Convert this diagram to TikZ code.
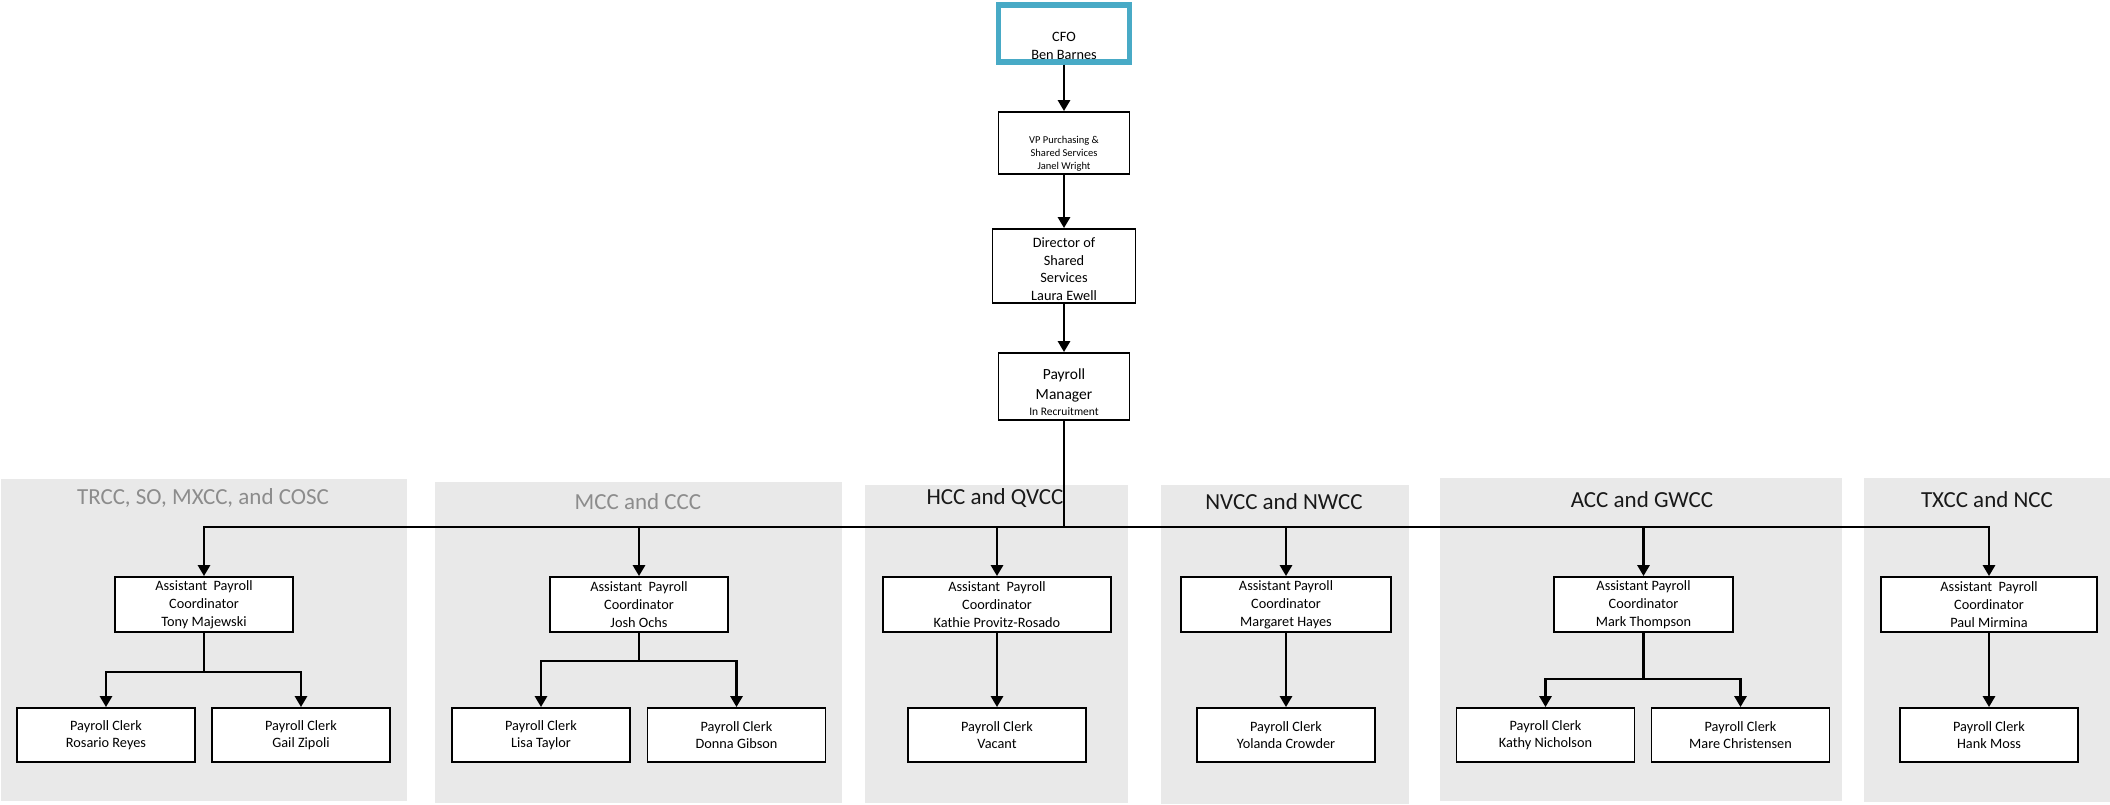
\documentclass[tikz,border=0pt]{standalone}
\usepackage{fontspec}
\setmainfont{Carlito}
\usetikzlibrary{arrows.meta}
\definecolor{panelgray}{RGB}{233,233,233}
\definecolor{titlegray}{RGB}{140,140,140}
\definecolor{titleblack}{RGB}{25,25,25}
\definecolor{cfoteal}{RGB}{72,170,198}
\tikzset{
  box/.style={draw=black, line width=1.8pt, fill=white, rectangle, inner sep=0pt, align=center},
  cfobox/.style={draw=cfoteal, line width=5.5pt, fill=white, rectangle, inner sep=0pt},
  txt/.style={align=center, inner sep=0pt},
  panel/.style={fill=panelgray, draw=none},
  ptitle/.style={inner sep=0pt, font=\fontsize{23}{27}\selectfont},
  conn/.style={line width=2.8pt, draw=black},
  arr/.style={conn, -{Triangle[length=11pt,width=12pt]}},
  asst/.style={box, minimum height=55pt, font=\fontsize{14.3}{18}\selectfont},
  clerk/.style={box, minimum width=178pt, minimum height=54pt, font=\fontsize{14.3}{17}\selectfont}
}
\begin{document}
\begin{tikzpicture}[x=1pt,y=-1pt]
\useasboundingbox (0,0) rectangle (2110,805);
% panels
\fill[panel] (1,479) rectangle (407,801);
\fill[panel] (435,482) rectangle (842,803);
\fill[panel] (865,485) rectangle (1128,803);
\fill[panel] (1161,485) rectangle (1409,804);
\fill[panel] (1440,478) rectangle (1842,801);
\fill[panel] (1864,478) rectangle (2110,802);
% titles
\node[ptitle, text=titlegray] (t1) at (203,498) {TRCC, SO, MXCC, and COSC};
\node[ptitle, text=titlegray] (t2) at (638,502) {MCC and CCC};
\node[ptitle, text=titleblack] (t3) at (995,498) {HCC and QVCC};
\node[ptitle, text=titleblack] (t4) at (1284,502) {NVCC and NWCC};
\node[ptitle, text=titleblack] (t5) at (1642,500) {ACC and GWCC};
\node[ptitle, text=titleblack] (t6) at (1987,500) {TXCC and NCC};
% top chain
\node[cfobox, minimum width=131pt, minimum height=57pt] (cfo) at (1064,33.5) {};
\node[txt, font=\fontsize{14.3}{18}\selectfont] (cfot) at (1064,46) {CFO\\Ben Barnes};
\node[box, minimum width=131pt, minimum height=62pt] (vp) at (1064,143) {};
\node[txt, font=\fontsize{10.5}{13}\selectfont] (vpt) at (1064,154) {VP Purchasing \&\\Shared Services\\Janel Wright};
\node[box, minimum width=143pt, minimum height=74pt] (dir) at (1064,266) {};
\node[txt, font=\fontsize{14.3}{17.5}\selectfont] (dirt) at (1064,269) {Director of\\Shared\\Services\\Laura Ewell};
\node[box, minimum width=131pt, minimum height=67pt] (pm) at (1064,386.5) {};
\node[txt, font=\fontsize{15.5}{20}\selectfont] (pmt) at (1064,385) {Payroll\\Manager};
\node[txt, font=\fontsize{11.5}{14}\selectfont] (pmr) at (1064,412) {In Recruitment};
\draw[arr] (cfo.south) -- (vp.north);
\draw[arr] (vp.south) -- (dir.north);
\draw[arr] (dir.south) -- (pm.north);
% assistants
\node[asst, minimum width=178pt] (a1) at (204,604.5) {Assistant\ \ Payroll\\Coordinator\\Tony Majewski};
\node[asst, minimum width=178pt] (a2) at (639,604.5) {Assistant\ \ Payroll\\Coordinator\\Josh Ochs};
\node[asst, minimum width=228pt] (a3) at (997,604.5) {Assistant\ \ Payroll\\Coordinator\\Kathie Provitz-Rosado};
\node[asst, minimum width=210pt] (a4) at (1286,604.5) {Assistant Payroll\\Coordinator\\Margaret Hayes};
\node[asst, minimum width=179pt] (a5) at (1643.5,604.5) {Assistant Payroll\\Coordinator\\Mark Thompson};
\node[asst, minimum width=216pt] (a6) at (1989,604.5) {Assistant\ \ Payroll\\Coordinator\\Paul Mirmina};
% clerks
\node[clerk] (c1a) at (106,735) {Payroll Clerk\\Rosario Reyes};
\node[clerk] (c1b) at (301,735) {Payroll Clerk\\Gail Zipoli};
\node[clerk] (c2a) at (541,735) {Payroll Clerk\\Lisa Taylor};
\node[clerk] (c2b) at (736.5,735) {Payroll Clerk\\Donna Gibson};
\node[clerk] (c3) at (997,735) {Payroll Clerk\\Vacant};
\node[clerk] (c4) at (1286,735) {Payroll Clerk\\Yolanda Crowder};
\node[clerk] (c5a) at (1545.5,735) {Payroll Clerk\\Kathy Nicholson};
\node[clerk] (c5b) at (1740.5,735) {Payroll Clerk\\Mare Christensen};
\node[clerk] (c6) at (1989,735) {Payroll Clerk\\Hank Moss};
% bus
\coordinate (bus) at (1064,527);
\draw[conn] (pm.south) -- (bus);
\draw[arr] (bus) -| (a1.north);
\draw[arr] (bus) -| (a2.north);
\draw[arr] (bus) -| (a3.north);
\draw[arr] (bus) -| (a4.north);
\draw[arr] (bus) -| (a5.north);
\draw[arr] (bus) -| (a6.north);
% splits
\coordinate (s1) at (204,672);
\coordinate (s2) at (639,661);
\coordinate (s5) at (1643.5,679);
\draw[conn] (a1.south) -- (s1);
\draw[arr] (s1) -| (c1a.north);
\draw[arr] (s1) -| (c1b.north);
\draw[conn] (a2.south) -- (s2);
\draw[arr] (s2) -| (c2a.north);
\draw[arr] (s2) -| (c2b.north);
\draw[conn] (a5.south) -- (s5);
\draw[arr] (s5) -| (c5a.north);
\draw[arr] (s5) -| (c5b.north);
\draw[arr] (a3.south) -- (c3.north);
\draw[arr] (a4.south) -- (c4.north);
\draw[arr] (a6.south) -- (c6.north);
\end{tikzpicture}
\end{document}
